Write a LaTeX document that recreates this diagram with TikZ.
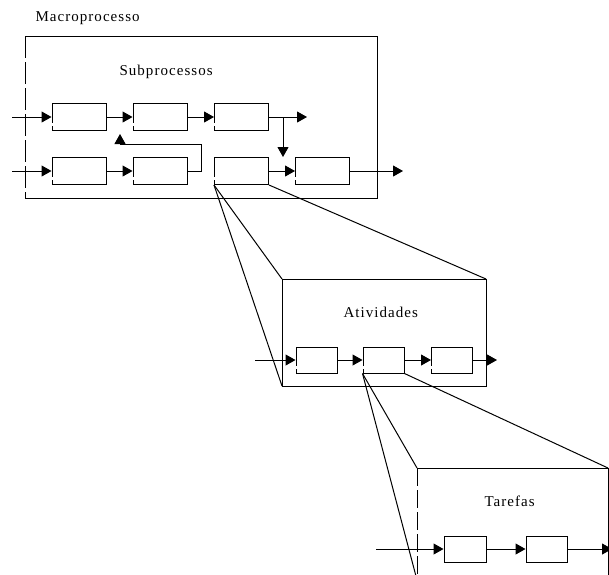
\documentclass[tikz,border=0pt]{standalone}
\usepackage{fontspec}
\setmainfont{Liberation Serif}
\newfontfamily\lblfont[LetterSpace=7]{Liberation Serif}
\usetikzlibrary{arrows.meta}
\begin{document}
\begin{tikzpicture}[x=1pt,y=-1pt,line width=1pt,
  pbox/.style={draw,rectangle,inner sep=0pt,minimum width=54pt,minimum height=27pt},
  abox/.style={draw,rectangle,inner sep=0pt,minimum width=41pt,minimum height=26pt},
  flow/.style={-{Triangle[length=10pt,width=11pt]}},
  gapfix/.style={white,line width=2pt},
  lbl/.style={anchor=base west,inner sep=0pt,font=\lblfont\fontsize{15}{17}\selectfont}]
\useasboundingbox (0,0) rectangle (609,574);

% ---------- Macroprocesso ----------
\node[lbl] (tmacro) at (35,21.5) {Macroprocesso};
\coordinate (mNW) at (25,36);
\coordinate (mNE) at (377,36);
\coordinate (mSE) at (377,198);
\coordinate (mSW) at (25,198);
\draw (mNW) -- (mNE) -- (mSE) -- (mSW);
\draw[dash pattern=on 22pt off 4pt] (mNW) -- (mSW);
\node[lbl] (tsub) at (119,75) {Subprocessos};

\node[pbox] (s11) at (79,117) {};
\node[pbox] (s12) at (160,117) {};
\node[pbox] (s13) at (241.5,117) {};
\node[pbox] (s21) at (79,171) {};
\node[pbox] (s22) at (160,171) {};
\node[pbox] (s23) at (241.5,171) {};
\node[pbox] (s24) at (322.5,171) {};
\foreach \b in {s11,s12,s13,s21,s22,s23,s24}
  \draw[gapfix] ([yshift=-6pt]\b.west) -- ([yshift=-9pt]\b.west);

\coordinate (in1) at (12,117);
\coordinate (in2) at (12,171);
\coordinate (out1) at (307,117);
\coordinate (br) at (283,117);
\coordinate (brend) at (283,157);
\coordinate (out2) at (403,171);
\coordinate (fb1) at (201,171);
\coordinate (fb2) at (201,144);
\coordinate (fb3) at (120,144);
\coordinate (fb4) at (120,134);

\draw[flow] (in1) -- (s11.west);
\draw[flow] (s11.east) -- (s12.west);
\draw[flow] (s12.east) -- (s13.west);
\draw[flow] (s13.east) -- (out1);
\draw[flow] (br) -- (brend);
\draw[flow] (in2) -- (s21.west);
\draw[flow] (s21.east) -- (s22.west);
\draw[flow] (s22.east) -- (fb1) -- (fb2) -- (fb3) -- (fb4);
\draw[flow] (s23.east) -- (s24.west);
\draw[flow] (s24.east) -- (out2);

% ---------- Atividades ----------
\coordinate (aNW) at (282,279);
\coordinate (aNE) at (486,279);
\coordinate (aSE) at (486,386);
\coordinate (aSW) at (282,386);
\draw (aNW) -- (aNE) -- (aSE) -- (aSW) -- cycle;
\node[lbl] (tativ) at (343,317.5) {Atividades};

\node[abox] (a1) at (316.5,360) {};
\node[abox] (a2) at (383.5,360) {};
\node[abox] (a3) at (452,360) {};
\foreach \b in {a1,a2,a3}
  \draw[gapfix] ([yshift=-6pt]\b.west) -- ([yshift=-9pt]\b.west);
\coordinate (ain) at (255,360);
\coordinate (aout) at (497,360);
\draw[flow] (ain) -- (a1.west);
\draw[flow] (a1.east) -- (a2.west);
\draw[flow] (a2.east) -- (a3.west);
\draw[flow] (a3.east) -- (aout);

\draw (s23.south west) -- (aNW);
\draw (s23.south west) -- (aSW);
\draw (s23.south east) -- (aNE);

% ---------- Tarefas ----------
\coordinate (tNW) at (417,468);
\coordinate (tNE) at (608,468);
\coordinate (tSE) at (608,580);
\coordinate (tSW) at (417,580);
\draw (tNW) -- (tNE) -- (tSE);
\draw[dash pattern=on 18pt off 4pt] (tNW) -- (tSW);
\node[lbl] (ttar) at (484,506.5) {Tarefas};

\node[abox,minimum width=42pt] (t1) at (465,549) {};
\node[abox] (t2) at (546.5,549) {};
\coordinate (tin) at (376,549);
\coordinate (tout) at (612,549);
\draw[flow] (tin) -- (t1.west);
\draw[flow] (t1.east) -- (t2.west);
\draw[flow] (t2.east) -- (tout);

\draw (a2.south west) -- (tNW);
\draw (a2.south west) -- (tSW);
\draw (a2.south east) -- (tNE);
\end{tikzpicture}
\end{document}
